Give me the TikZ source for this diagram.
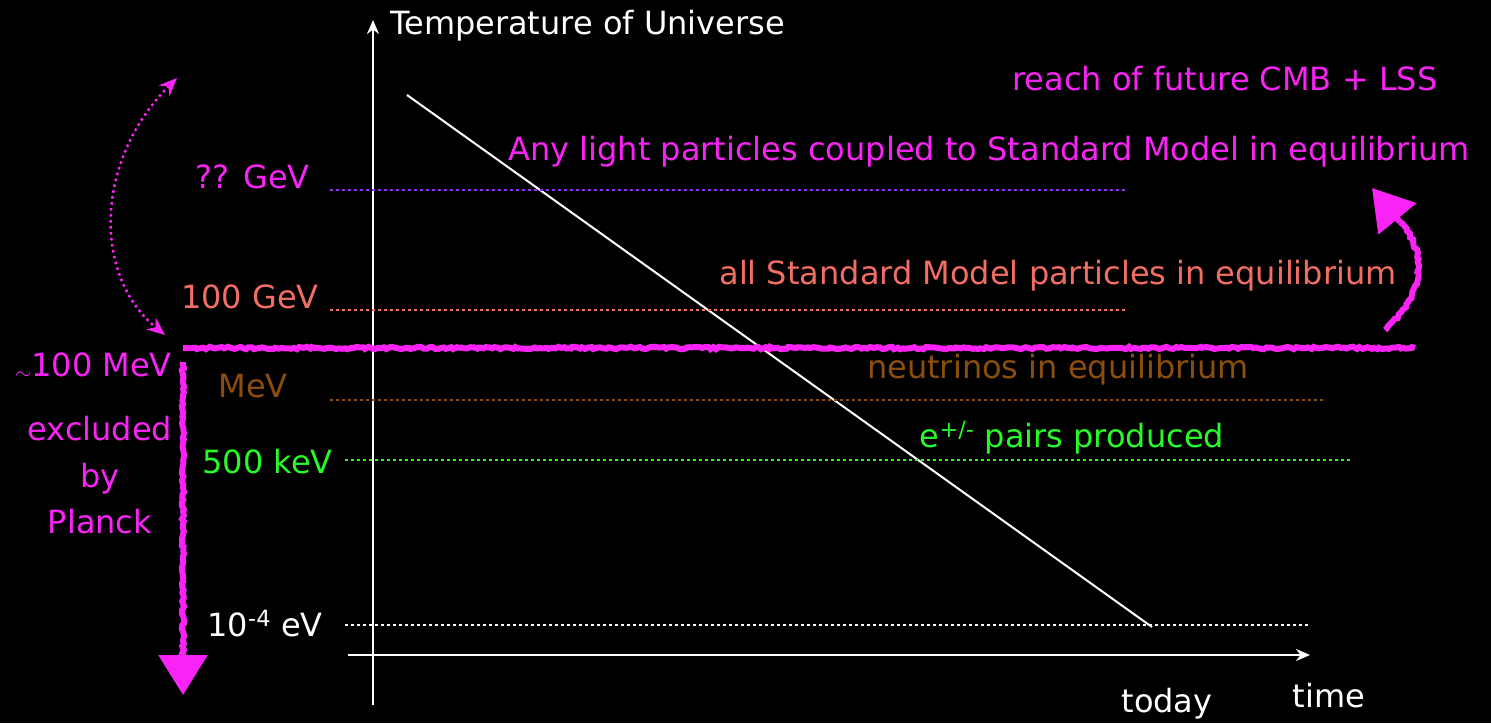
\documentclass[tikz,border=0pt]{standalone}
\usepackage{fontspec}
\setmainfont{DejaVu Sans}
\usetikzlibrary{decorations.pathmorphing,arrows.meta}
\definecolor{hotpink}{RGB}{250,35,245}
\definecolor{salmon}{RGB}{242,110,100}
\definecolor{nubrown}{RGB}{140,78,12}
\definecolor{eegreen}{RGB}{40,250,40}
\definecolor{violet}{RGB}{140,50,240}

\begin{document}
\begin{tikzpicture}[x=1pt,y=-1pt,>=Stealth,
  font=\fontsize{32}{36}\selectfont,
  every node/.style={inner sep=0pt},
  level/.style={line width=2.5pt,dash pattern=on 2.5pt off 3.5pt},
  rough/.style={hotpink,line width=6pt,decorate,
    decoration={random steps,segment length=3pt,amplitude=1.2pt}},
  bighead/.style={hotpink,line width=6pt,-{Triangle[width=48pt,length=40pt]}}]
\fill[black] (0,0) rectangle (1491,723);
% axes
\coordinate (ybot) at (373,705);
\coordinate (ytop) at (373,20);
\coordinate (xbeg) at (348,655);
\coordinate (xend) at (1310,655);
\draw[white,line width=2.5pt,-{Stealth[length=14pt,width=12pt]}] (ybot) -- (ytop);
\draw[white,line width=2.5pt,-{Stealth[length=14pt,width=12pt]}] (xbeg) -- (xend);
\node[white,anchor=base west] (ylab) at (390,34) {Temperature of Universe};
\node[white,anchor=base] (xlab) at (1329,707) {time};
\node[white,anchor=base] (today) at (1167,712) {today};
% cooling line
\coordinate (hot) at (407,95);
\coordinate (cold) at (1152,627);
\draw[white,line width=2pt] (hot) -- (cold);
% temperature levels
\node[hotpink,anchor=base east] (lgev) at (310,188) {?? GeV};
\draw[level,violet] (330,190) -- (1125,190);
\node[salmon,anchor=base east] (lew) at (319,308) {100 GeV};
\draw[level,salmon] (330,310) -- (1125,310);
\node[nubrown,anchor=base east] (lmev) at (288,397) {MeV};
\draw[level,nubrown] (330,400) -- (1325,400);
\node[eegreen,anchor=base east] (lkev) at (333,473) {500 keV};
\draw[level,eegreen] (345,460) -- (1352,460);
\node[white,anchor=base east] (lev) at (323,636) {10\textsuperscript{-4} eV};
\draw[level,white] (345,625) -- (1310,625);
% Planck bound
\node[hotpink,anchor=base east] (lplanck) at (172,376) {\raisebox{-3pt}{$\scriptstyle\sim$}100 MeV};
\coordinate (bndl) at (183,348);
\coordinate (bndr) at (1415,348);
\draw[rough] (bndl) -- (bndr);
\coordinate (dtop) at (183,362);
\coordinate (dmid) at (183,658);
\coordinate (dbot) at (183,695);
\draw[rough] (dtop) -- (dmid);
\draw[bighead] (dmid) -- (dbot);
\node[hotpink,anchor=base] (excl) at (100,440) {excluded};
\node[hotpink,anchor=base] (by) at (100,487) {by};
\node[hotpink,anchor=base] (planck) at (100,533) {Planck};
\coordinate (ubeg) at (1385,330);
\coordinate (umid) at (1400,222);
\coordinate (uend) at (1372,188);
\draw[rough] (ubeg) .. controls (1428,290) and (1425,250) .. (umid);
\draw[bighead] (umid) -- (uend);
\draw[hotpink,line width=2.5pt,dash pattern=on 2.5pt off 3.5pt,
  {Stealth[length=18pt,width=15pt]}-{Stealth[length=18pt,width=15pt]}]
  (177,78) .. controls (95,160) and (92,275) .. (165,335);
% regime labels
\node[hotpink,anchor=base] (cmb) at (1225,90) {reach of future CMB + LSS};
\node[hotpink,anchor=base] (anylight) at (989,160) {Any light particles coupled to Standard Model in equilibrium};
\node[salmon,anchor=base] (allsm) at (1058,284) {all Standard Model particles in equilibrium};
\node[nubrown,anchor=base] (nu) at (1058,378) {neutrinos in equilibrium};
\node[eegreen,anchor=base] (ee) at (1072,447) {e\textsuperscript{+/-} pairs produced};
\end{tikzpicture}
\end{document}
